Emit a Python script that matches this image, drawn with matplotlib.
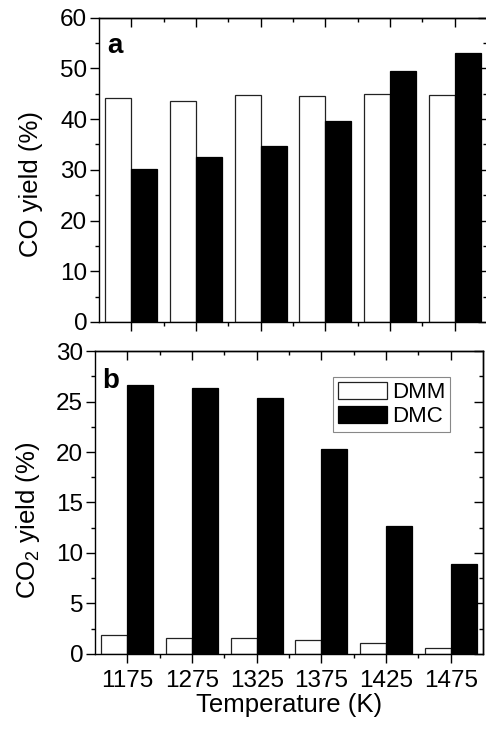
import matplotlib
matplotlib.use("Agg")
import matplotlib.pyplot as plt
from matplotlib.ticker import FixedLocator, MultipleLocator
import numpy as np

plt.rcParams["font.family"] = ["Liberation Sans", "DejaVu Sans"]
plt.rcParams["mathtext.fontset"] = "custom"
plt.rcParams["mathtext.rm"] = "Liberation Sans"
plt.rcParams["mathtext.it"] = "Liberation Sans:italic"
plt.rcParams["mathtext.bf"] = "Liberation Sans:bold"

# Temperatures (K) and yields (%) for the two fuels
temperatures = ["1175", "1275", "1325", "1375", "1425", "1475"]
co_dmm = [44.2, 43.5, 44.8, 44.5, 44.9, 44.7]
co_dmc = [30.2, 32.6, 34.7, 39.6, 49.5, 53.1]
co2_dmm = [1.9, 1.6, 1.6, 1.35, 1.1, 0.63]
co2_dmc = [26.6, 26.3, 25.3, 20.3, 12.7, 8.9]
series_names = ["DMM", "DMC"]

x = np.arange(len(temperatures))
bar_w = 0.4
TICK_FS = 17.5
LABEL_FS = 18.5


def style_axes(ax, ymax, major, minor):
    ax.set_xlim(-0.5, len(temperatures) - 0.5)
    ax.set_ylim(0, ymax)
    ax.xaxis.set_major_locator(FixedLocator(x))
    ax.xaxis.set_minor_locator(FixedLocator(x[:-1] + 0.5))
    ax.yaxis.set_major_locator(MultipleLocator(major))
    ax.yaxis.set_minor_locator(MultipleLocator(minor))
    ax.tick_params(which="major", direction="out", length=6.5, width=1,
                   labelsize=TICK_FS)
    ax.tick_params(axis="y", which="major", pad=2)
    ax.tick_params(axis="x", which="major", pad=5)
    ax.tick_params(which="minor", direction="out", length=3, width=1)
    for s in ax.spines.values():
        s.set_linewidth(1.0)

    # inward ticks on the top and right spines
    top = ax.secondary_xaxis("top")
    top.xaxis.set_major_locator(FixedLocator(x))
    top.xaxis.set_minor_locator(FixedLocator(x[:-1] + 0.5))
    top.tick_params(axis="x", which="major", direction="in", length=6.5, width=1,
                    labeltop=False, labelbottom=False)
    top.tick_params(axis="x", which="minor", direction="in", length=3, width=1)
    top.spines["top"].set_linewidth(1.0)

    right = ax.secondary_yaxis("right")
    right.yaxis.set_major_locator(MultipleLocator(major))
    right.yaxis.set_minor_locator(MultipleLocator(minor))
    right.tick_params(axis="y", which="major", direction="in", length=6.5, width=1,
                      labelright=False, labelleft=False)
    right.tick_params(axis="y", which="minor", direction="in", length=3, width=1)
    right.spines["right"].set_linewidth(1.0)


fig = plt.figure(figsize=(4.86, 7.29), dpi=100)
ax1 = fig.add_axes([0.2037, 0.5583, 0.7984, 0.4174])
ax2 = fig.add_axes([0.1955, 0.1029, 0.7984, 0.4156])

# Panel a: CO yield
ax1.bar(x - bar_w / 2, co_dmm, bar_w, color="white", edgecolor="#222222",
        linewidth=0.9, label=series_names[0])
ax1.bar(x + bar_w / 2, co_dmc, bar_w, color="black", edgecolor="black",
        linewidth=0.9, label=series_names[1])
style_axes(ax1, 60, 10, 5)
ax1.set_xticklabels([])
ax1.set_ylabel("CO yield (%)", fontsize=LABEL_FS)
ax1.yaxis.set_label_coords(-0.145, 0.455)
ax1.text(0.022, 0.885, "a", transform=ax1.transAxes, fontsize=20,
         fontweight="bold", va="baseline", ha="left")

# Panel b: CO2 yield
ax2.bar(x - bar_w / 2, co2_dmm, bar_w, color="white", edgecolor="#222222",
        linewidth=0.9, label=series_names[0])
ax2.bar(x + bar_w / 2, co2_dmc, bar_w, color="black", edgecolor="black",
        linewidth=0.9, label=series_names[1])
style_axes(ax2, 30, 5, 2.5)
ax2.set_xticklabels(temperatures)
ax2.set_xlabel("Temperature (K)", fontsize=LABEL_FS, labelpad=1)
ax2.set_ylabel("CO$_2$ yield (%)", fontsize=LABEL_FS)
ax2.yaxis.set_label_coords(-0.137, 0.44)
ax2.text(0.018, 0.878, "b", transform=ax2.transAxes, fontsize=20,
         fontweight="bold", va="baseline", ha="left")

leg = ax2.legend(loc="upper right", bbox_to_anchor=(0.915, 0.914),
                 borderaxespad=0, fontsize=16, handlelength=2.2,
                 handleheight=0.8, handletextpad=0.25, labelspacing=0.15,
                 borderpad=0.2, fancybox=False, framealpha=1)
leg.get_frame().set_edgecolor("#888888")
leg.get_frame().set_linewidth(0.8)

fig.savefig("out.png", dpi=100)
